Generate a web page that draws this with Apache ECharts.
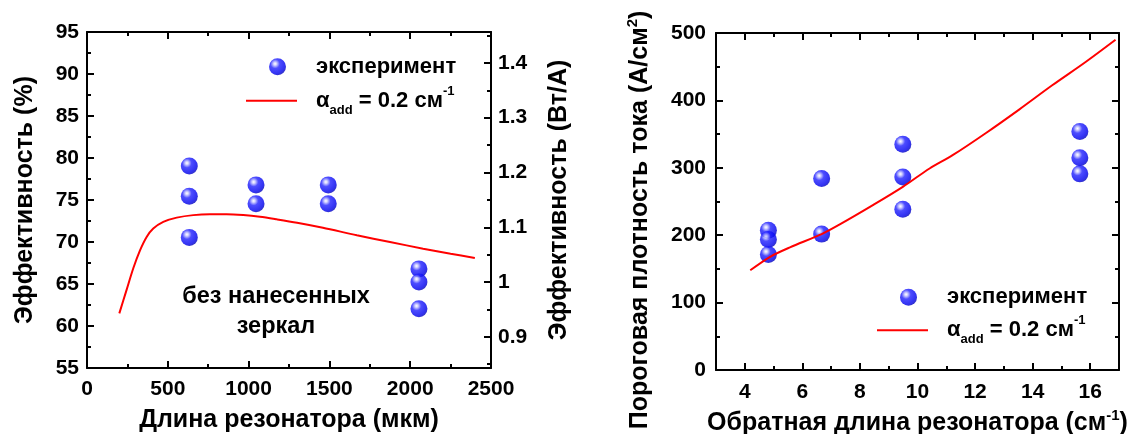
<!DOCTYPE html>
<html>
<head>
<meta charset="utf-8">
<script src="https://cdn.jsdelivr.net/npm/echarts@6/dist/echarts.min.js"></script>
<style>
  html, body { margin: 0; padding: 0; background: #fff; }
  #chart { width: 1135px; height: 434px; }
</style>
</head>
<body>
<div id="chart"></div>
<script>
// ---- Left panel: efficiency vs cavity length ----
const lengthUm      = [633, 633, 633, 1046, 1046, 1493, 1493, 2054, 2054, 2054];
const efficiencyPct = [79.05, 75.45, 70.55, 76.8, 74.55, 76.8, 74.55, 66.8, 65.25, 62.05];

// model curve, alpha_add = 0.2 cm^-1
const modelLengthUm = [200, 245, 287, 328, 369, 410, 472, 555, 658, 761, 864, 967, 1070, 1174, 1300, 1460, 1670, 1875, 2080, 2250, 2400];
const modelEffPct   = [61.5, 64.3, 66.9, 69.0, 70.6, 71.6, 72.4, 72.9, 73.2, 73.3, 73.3, 73.2, 73.0, 72.7, 72.3, 71.7, 70.8, 70.0, 69.2, 68.6, 68.1];

// tick labels of the cavity-length axis (0 .. 2500 step 500)
const lengthTickLabels = ['0', '500', '1000', '1500', '2000', '2500'];

// % -> W/A conversion for the right-hand axis
const PCT_TO_WA = 0.01533;
const effRange = [55, 95];

// ---- Right panel: threshold current density vs inverse length ----
const invLengthCm = [4.82, 4.82, 4.82, 6.67, 6.67, 9.49, 9.49, 9.49, 15.64, 15.64, 15.64];
const thresholdJ  = [207.5, 193.7, 171.5, 284, 201.6, 335, 286.5, 238.6, 354, 315, 291];

const modelInvLength = [4.19, 4.88, 5.57, 6.67, 7.30, 8.45, 9.49, 10.42, 11.22, 12.38, 13.53, 14.68, 15.84, 16.88];
const modelJ         = [148, 168, 182, 201.6, 216, 244.6, 271.7, 299, 318.7, 351.7, 386.4, 422.4, 457, 490];

const SERIES_EXP = 'эксперимент';
const SERIES_MODEL = 'α';

const FONT = 'Liberation Sans';
const TICK_FS = 21;
const TITLE_FS = 25;
const LEGEND_FS = 22;

const ball = () => ({
  type: 'radial', x: 0.36, y: 0.33, r: 0.72,
  colorStops: [
    { offset: 0, color: '#ffffff' },
    { offset: 0.13, color: '#c4c4ff' },
    { offset: 0.38, color: '#2020ff' },
    { offset: 0.8, color: '#0000ee' },
    { offset: 1, color: '#0000b4' }
  ]
});

function zip(a, b) { return a.map((v, i) => [v, b[i]]); }

const labelStyle = () => ({ fontFamily: FONT, fontWeight: 'bold', fontSize: TICK_FS, color: '#000' });
const nameStyle = (extra) => Object.assign({
  fontFamily: FONT, fontWeight: 'bold', fontSize: TITLE_FS, color: '#000', lineHeight: 30,
  rich: { sup: { fontFamily: FONT, fontWeight: 'bold', fontSize: 15, lineHeight: 15, verticalAlign: 'top', color: '#000' } }
}, extra);

// every axis gets its own fresh style objects
function valAxis(extra, labelExtra) {
  return Object.assign({
    type: 'value',
    axisLine: { show: true, onZero: false, lineStyle: { color: '#000', width: 2 } },
    axisTick: { show: true, inside: true, length: 7, lineStyle: { color: '#000', width: 2 } },
    minorTick: { show: true, splitNumber: 2, length: 4, lineStyle: { color: '#000', width: 2 } },
    splitLine: { show: false },
    axisLabel: Object.assign({ margin: 8 }, labelStyle(), labelExtra || {}),
    nameTextStyle: nameStyle(),
    nameLocation: 'middle'
  }, extra);
}
function mirror(extra) {
  return valAxis(extra, { show: false });
}

const legendText = () => ({
  fontFamily: FONT, fontWeight: 'bold', fontSize: LEGEND_FS, color: '#000',
  rich: {
    b: { fontFamily: FONT, fontWeight: 'bold', fontSize: LEGEND_FS, lineHeight: 32, color: '#000' },
    sub: { fontFamily: FONT, fontWeight: 'bold', fontSize: 13, lineHeight: 13, verticalAlign: 'bottom', color: '#000' },
    sup: { fontFamily: FONT, fontWeight: 'bold', fontSize: 13, lineHeight: 13, verticalAlign: 'top', color: '#000' },
    g1: { width: 25 },
    g2: { width: 14 }
  }
});
function legendFormatter(name) {
  if (name === SERIES_MODEL) return '{g2|}{b|α}{sub|add}{b| = 0.2 см}{sup|-1}';
  return '{g1|}{b|' + name + '}';
}
function expLegend(left, top) {
  return {
    data: [SERIES_EXP], left: left, top: top, itemWidth: 17, itemHeight: 17,
    selectedMode: false, padding: 0, formatter: legendFormatter, textStyle: legendText()
  };
}
function modelLegend(left, top) {
  return {
    data: [{ name: SERIES_MODEL, icon: 'rect', itemStyle: { color: '#ff0000' } }],
    left: left, top: top, itemWidth: 51, itemHeight: 2,
    selectedMode: false, padding: 0, formatter: legendFormatter, textStyle: legendText()
  };
}

const chart = echarts.init(document.getElementById('chart'), null, { renderer: 'canvas' });

chart.setOption({
  animation: false,
  backgroundColor: '#fff',
  grid: [
    { left: 87, top: 32, width: 404, height: 336, outerBoundsMode: 'none' },
    { left: 716, top: 33, width: 403, height: 337, outerBoundsMode: 'none' }
  ],
  xAxis: [
    valAxis({ gridIndex: 0, position: 'bottom', min: 0, max: 2500, interval: 500,
      name: 'Длина резонатора (мкм)', nameGap: 37 }, { show: false }),
    mirror({ gridIndex: 0, position: 'top', min: 0, max: 2500, interval: 500 }),
    valAxis({ gridIndex: 1, position: 'bottom', min: 3, max: 17, minInterval: 2, maxInterval: 2, splitNumber: 7,
      name: 'Обратная длина резонатора (см{sup|-1})', nameGap: 36 },
      { margin: 12, showMinLabel: false, showMaxLabel: false }),
    mirror({ gridIndex: 1, position: 'top', min: 3, max: 17, minInterval: 2, maxInterval: 2, splitNumber: 7 }),
    // plain-number tick labels for the cavity-length axis
    {
      type: 'category', gridIndex: 0, position: 'bottom', data: lengthTickLabels, boundaryGap: false,
      axisLine: { show: false }, axisTick: { show: false }, splitLine: { show: false },
      axisLabel: Object.assign({ margin: 11, interval: 0 }, labelStyle())
    }
  ],
  yAxis: [
    valAxis({ gridIndex: 0, position: 'left', min: effRange[0], max: effRange[1], interval: 5,
      name: 'Эффективность (%)', nameRotate: 90, nameGap: 47 }),
    valAxis({ gridIndex: 0, position: 'right',
      min: effRange[0] * PCT_TO_WA, max: effRange[1] * PCT_TO_WA,
      minInterval: 0.1, maxInterval: 0.1, splitNumber: 6,
      name: 'Эффективность (Вт/А)', nameRotate: 90, nameGap: 53 },
      { margin: 7, showMinLabel: false, showMaxLabel: false }),
    valAxis({ gridIndex: 1, position: 'left', min: 0, max: 500, interval: 100,
      name: 'Пороговая плотность тока (А/см{sup|2})', nameRotate: 90, nameGap: 61,
      nameTextStyle: nameStyle({ padding: [0, 37, 0, 0] }) },
      { margin: 10 }),
    mirror({ gridIndex: 1, position: 'right', min: 0, max: 500, interval: 100 })
  ],
  legend: [
    expLegend(269, 55.7),
    modelLegend(246, 84.7),
    expLegend(900, 286.3),
    modelLegend(877, 314.3)
  ],
  graphic: [
    {
      type: 'text', x: 276, y: 312,
      style: {
        text: 'без нанесенных\nзеркал', align: 'center', verticalAlign: 'middle',
        fontFamily: FONT, fontWeight: 'bold', fontSize: 23.5, lineHeight: 30, fill: '#000'
      }
    }
  ],
  series: [
    {
      name: SERIES_MODEL, type: 'line', xAxisIndex: 0, yAxisIndex: 0,
      data: zip(modelLengthUm, modelEffPct), smooth: 0.3, symbol: 'none',
      lineStyle: { color: '#ff0000', width: 2 }, itemStyle: { color: '#ff0000' }
    },
    {
      name: SERIES_EXP, type: 'scatter', xAxisIndex: 0, yAxisIndex: 0,
      data: zip(lengthUm, efficiencyPct), symbolSize: 17,
      itemStyle: { color: ball() }
    },
    {
      name: SERIES_MODEL, type: 'line', xAxisIndex: 2, yAxisIndex: 2,
      data: zip(modelInvLength, modelJ), smooth: 0.3, symbol: 'none',
      lineStyle: { color: '#ff0000', width: 2 }, itemStyle: { color: '#ff0000' }
    },
    {
      name: SERIES_EXP, type: 'scatter', xAxisIndex: 2, yAxisIndex: 2,
      data: zip(invLengthCm, thresholdJ), symbolSize: 17,
      itemStyle: { color: ball() }
    }
  ]
});
</script>
</body>
</html>
